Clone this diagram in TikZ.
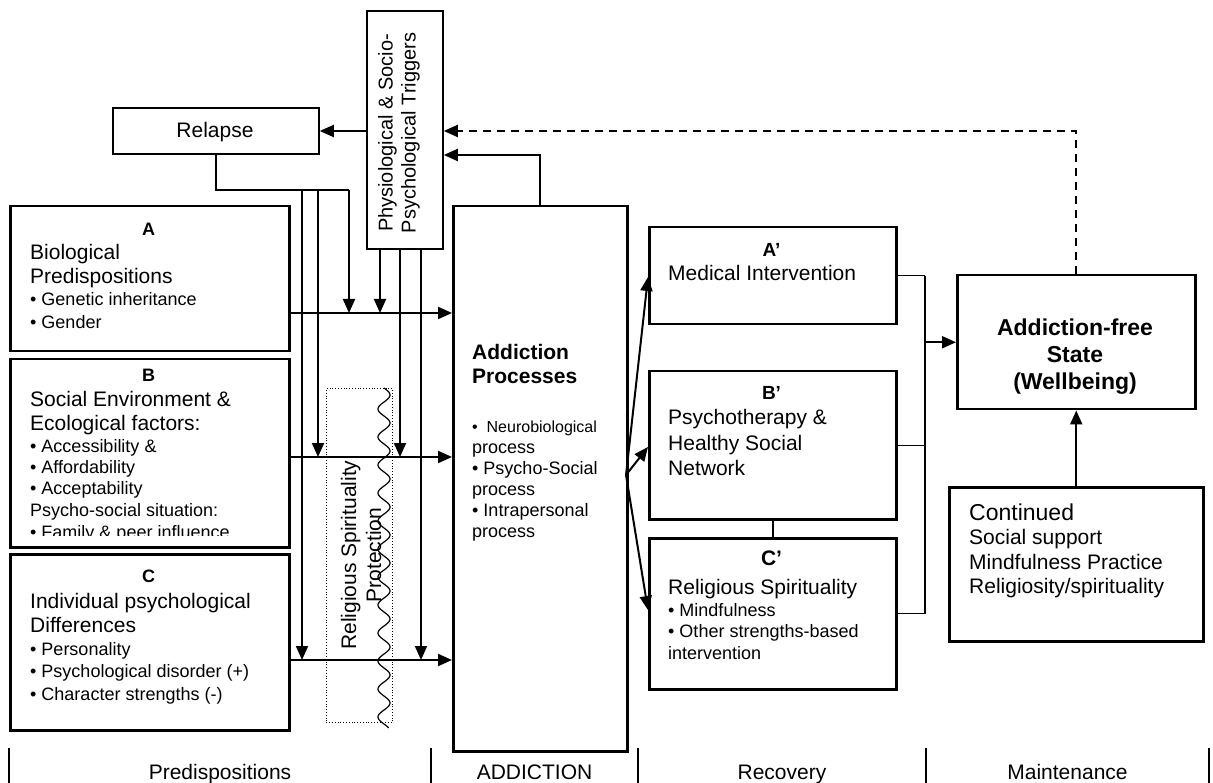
\documentclass[tikz,border=0pt]{standalone}
\usepackage{fontspec}
\setmainfont{Liberation Sans}
\usetikzlibrary{arrows.meta}

% font sizes used in the boxes (normal word spacing restored after ragged setting)
\newcommand\sizeto[2]{\fontsize{#1}{#2}\selectfont\spaceskip=0pt\xspaceskip=0pt\relax}
\newcommand\bigtx{\sizeto{21}{24}}
\newcommand\smtx{\sizeto{18}{22.5}}

\begin{document}
\begin{tikzpicture}[x=1pt,y=-1pt,
  box/.style={draw, line width=2.5pt, inner sep=0pt, anchor=north west},
  thinbox/.style={box, line width=1.8pt},
  con/.style={line width=2pt},
  bus/.style={line width=1.3pt},
  arr/.style={con, -{Triangle[length=14pt,width=12pt]}},
  body/.style={inner sep=0pt, anchor=base west, align=left},
  hdr/.style={inner sep=0pt, anchor=base, font=\bfseries},
  phase/.style={inner sep=0pt, anchor=base, font=\fontsize{21}{24}\selectfont},
  sep/.style={line width=2pt},
]
\useasboundingbox (0,0) rectangle (1213,783);

% ---------- boxes ----------
\node[thinbox, minimum width=206pt, minimum height=46pt] (Rel) at (112,107) {};
\node[thinbox, minimum width=76pt, minimum height=238pt] (Trig) at (366,10) {};
\node[box, minimum width=279pt, minimum height=145pt] (A) at (9,205) {};
\node[box, minimum width=279pt, minimum height=188pt] (B) at (9,358) {};
\node[box, minimum width=279pt, minimum height=176pt] (C) at (9,553) {};
\node[box, minimum width=174pt, minimum height=545pt] (Add) at (452,205) {};
\node[box, minimum width=247pt, minimum height=97pt] (AP) at (648,226) {};
\node[box, minimum width=247pt, minimum height=148pt] (BP) at (648,370) {};
\node[box, minimum width=247pt, minimum height=151pt] (CP) at (648,537) {};
\node[box, minimum width=238pt, minimum height=134pt] (Free) at (956,274) {};
\node[box, minimum width=254pt, minimum height=154pt] (Cont) at (948,486) {};

% protection band
\node[draw, dotted, line width=0.8pt, inner sep=0pt, anchor=north west,
      minimum width=66pt, minimum height=334pt] (Prot) at (326,388) {};
\node[inner sep=0pt, rotate=90, align=center,
      font=\fontsize{21}{25}\selectfont] (ProtT) at (361,555)
      {Religious Spirituality\\Protection};
\draw[line width=1.2pt] plot[domain=0:340, samples=400, smooth]
      ({384+6*sin(12.857*\x)}, {388+\x});

% ---------- texts ----------
\node[inner sep=0pt, anchor=base, font=\fontsize{21}{24}\selectfont] (RelT) at (215,138) {Relapse};
\node[inner sep=0pt, rotate=90, align=center, font=\fontsize{20}{23}\selectfont] (TrigT)
      at (399,133) {Physiological \& Socio-\\Psychological Triggers};

\node[hdr, font=\bfseries\fontsize{18}{20}\selectfont] (Ah) at (148.5,235.5) {A};
\node[body, text width=245pt] (Ab) at (30,259.5)
  {\bigtx Biological\par Predispositions\par
   \smtx • Genetic inheritance\par • Gender\par};

\node[hdr, font=\bfseries\fontsize{18}{20}\selectfont] (Bh) at (148.5,381.5) {B};
\begin{scope}
  \clip (9,358) rectangle (288,535);
  \node[body, text width=245pt] (Bb) at (30,406.5)
    {\bigtx Social Environment \&\par Ecological factors:\par
     \sizeto{18}{21.5}• Accessibility \&\par • Affordability\par
     • Acceptability\par Psycho-social situation:\par • Family \& peer influence\par};
\end{scope}

\node[hdr, font=\bfseries\fontsize{18}{20}\selectfont] (Ch) at (148.5,582.5) {C};
\node[body, text width=245pt] (Cb) at (30,608.5)
  {\bigtx Individual psychological\par Differences\par
   \smtx • Personality\par • Psychological disorder (+)\par • Character strengths (-)\par};

\node[body, text width=150pt, font=\bfseries\fontsize{21}{24}\selectfont] (AddT) at (472,359.5)
  {\spaceskip=0pt Addiction\par Processes\par};
\node[body, text width=150pt] (AddB) at (472,432)
  {\sizeto{16}{21}•\ \ Neurobiological\par
   \sizeto{18}{21}process\par • Psycho-Social\par process\par
   • Intrapersonal\par process\par};

\node[hdr, font=\bfseries\fontsize{19}{21}\selectfont] (APh) at (771.5,256.5) {A’};
\node[body, text width=225pt] (APb) at (668,280.5) {\bigtx Medical Intervention\par};

\node[hdr, font=\bfseries\fontsize{19}{21}\selectfont] (BPh) at (771.5,400) {B’};
\node[body, text width=225pt] (BPb) at (668,424.5)
  {\sizeto{21}{25.5}Psychotherapy \&\par Healthy Social\par Network\par};

\node[hdr, font=\bfseries\fontsize{21}{23}\selectfont] (CPh) at (771.5,565.5) {C’};
\node[body, text width=225pt] (CPb) at (668,594.5)
  {\bigtx Religious Spirituality\par
   \sizeto{18}{21.5}• Mindfulness\par • Other strengths-based\par intervention\par};

\node[inner sep=0pt, anchor=base, align=center, text width=225pt,
      font=\bfseries\fontsize{23}{27}\selectfont] (FreeT) at (1075,335.5)
  {\spaceskip=0pt Addiction-free\par State\par (Wellbeing)\par};

\node[body, text width=230pt] (ContT) at (969,520)
  {\sizeto{23}{25}Continued\par
   \sizeto{21}{24.5}Social support\par Mindfulness Practice\par Religiosity/spirituality\par};

% ---------- phase bar ----------
\foreach \sx in {9,431,638,926,1209}
  \draw[sep] (\sx,748) -- (\sx,790);
\node[phase] (P1) at (220,779) {Predispositions};
\node[phase] (P2) at (534.5,779) {ADDICTION};
\node[phase] (P3) at (782,779) {Recovery};
\node[phase] (P4) at (1067.5,779) {Maintenance};

% ---------- helper coordinates ----------
\coordinate (rowA) at (0,313);
\coordinate (rowB) at (0,457);
\coordinate (rowC) at (0,660);
\coordinate (rl1) at (302,190);
\coordinate (rl2) at (318,190);
\coordinate (rl3) at (349,190);
\coordinate (tg1) at (380,0);
\coordinate (tg2) at (400,0);
\coordinate (tg3) at (421,0);
\coordinate (ytop1) at (0,131);
\coordinate (ytop2) at (0,155);
\coordinate (ax) at (540,0);
\coordinate (fan) at (626,475);
\coordinate (fA) at (0,277);
\coordinate (fB) at (0,447);
\coordinate (fC) at (0,610);
\coordinate (bx) at (925,0);

% ---------- connectors ----------
% triggers feed relapse; addiction and recovery feed back to triggers
\draw[arr] (Trig.west |- ytop1) -- (Rel.east |- ytop1);
\draw[arr] (Add.north -| ax) |- (Trig.east |- ytop2);
\draw[arr, dashed, dash pattern=on 8pt off 6pt] (Free.north) |- (Trig.east |- ytop1);

% relapse distributes to the three predisposition rows
\draw[con] (Rel.south) |- (rl3);
\draw[arr] (rl3) -- (rl3 |- rowA);
\draw[arr] (rl2) -- (rl2 |- rowB);
\draw[arr] (rl1) -- (rl1 |- rowC);

% triggers distribute to the three rows
\draw[arr] (Trig.south -| tg1) -- (tg1 |- rowA);
\draw[arr] (Trig.south -| tg2) -- (tg2 |- rowB);
\draw[arr] (Trig.south -| tg3) -- (tg3 |- rowC);

% predispositions into addiction
\draw[arr] (A.east |- rowA) -- (Add.west |- rowA);
\draw[arr] (B.east |- rowB) -- (Add.west |- rowB);
\draw[arr] (C.east |- rowC) -- (Add.west |- rowC);

% addiction into recovery
\draw[arr] (fan) -- (AP.west |- fA);
\draw[arr] (fan) -- (BP.west |- fB);
\draw[arr] (fan) -- (CP.west |- fC);
\draw[con] (BP.south) -- (CP.north);

% recovery into addiction-free state
\draw[bus] (AP.east) -- (AP.east -| bx);
\draw[bus] (BP.east) -- (BP.east -| bx);
\draw[bus] (CP.east) -- (CP.east -| bx);
\draw[bus] (AP.east -| bx) -- (CP.east -| bx);
\draw[arr] (bx |- Free.west) -- (Free.west);

% maintenance
\draw[arr] (Cont.north) -- (Free.south);
\end{tikzpicture}
\end{document}
